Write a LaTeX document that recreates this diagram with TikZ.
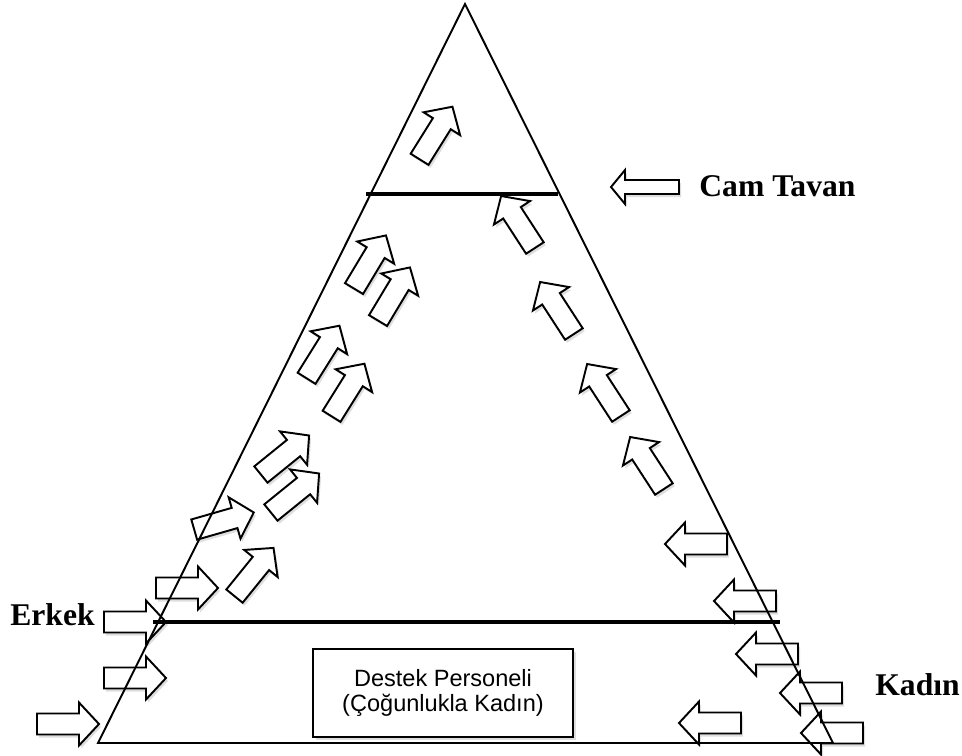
\documentclass[tikz,border=0pt]{standalone}
\usepackage{fontspec}
\setmainfont{Liberation Serif}
\newfontfamily\arialfont{Liberation Sans}

\tikzset{
  arrowbody/.style={draw, fill=white, line width=1.1pt, line join=miter},
  arrowshadow/.style={fill=black, opacity=0.13},
  ceiling/.style={line width=2.6pt},
  label/.style={font=\fontsize{18}{20}\selectfont\bfseries, inner sep=0pt},
  pics/blockarrow/.style={code={
    \fill[arrowshadow, shift={(2,3)}, rotate=#1] (-31,-10.5) -- (11,-10.5) -- (11,-21.5) -- (31,0) -- (11,21.5) -- (11,10.5) -- (-31,10.5) -- cycle;
    \draw[arrowbody, rotate=#1] (-31,-10.5) -- (11,-10.5) -- (11,-21.5) -- (31,0) -- (11,21.5) -- (11,10.5) -- (-31,10.5) -- cycle;
  }},
}

\begin{document}
\begin{tikzpicture}[x=0.02cm, y=-0.02cm]
  \useasboundingbox (0,0) rectangle (962,755);

  % Corners of the pyramid and the two floors
  \coordinate (apex) at (465,4);
  \coordinate (bl) at (98,743);
  \coordinate (br) at (833,743);
  \coordinate (ceilL) at (366,194);
  \coordinate (ceilR) at (558,194);
  \coordinate (erkL) at (153,622);
  \coordinate (erkR) at (780,622);

  % Arrows on the left (men)
  \pic at (68,724) {blockarrow=0};
  \pic at (135,678) {blockarrow=0};
  \pic at (135,622) {blockarrow=0};
  \pic at (187,588) {blockarrow=0};
  \pic at (224,521) {blockarrow=16};
  \pic at (254,572) {blockarrow=51};
  \pic at (285,455) {blockarrow=39};
  \pic at (295,493) {blockarrow=39};
  \pic at (323,352) {blockarrow=58};
  \pic at (348,390) {blockarrow=58};
  \pic at (370,262) {blockarrow=59};
  \pic at (394,294) {blockarrow=59};
  \pic at (436,133) {blockarrow=58};

  % Arrows on the right (women)
  \pic at (518,222) {blockarrow=123};
  \pic at (557,308) {blockarrow=123};
  \pic at (604,390) {blockarrow=123};
  \pic at (647,463) {blockarrow=123};
  \pic at (696,544) {blockarrow=180};
  \pic at (745,601) {blockarrow=180};
  \pic at (767,654) {blockarrow=180};
  \pic at (811,693) {blockarrow=180};
  \pic at (832,733) {blockarrow=180};
  \pic at (710,723) {blockarrow=180};

  % Cam Tavan arrow (smaller)
  \fill[arrowshadow, shift={(2,3)}] (611,187) -- (625,170) -- (625,180) -- (679,180) -- (679,194) -- (625,194) -- (625,204) -- cycle;
  \draw[arrowbody] (611,187) -- (625,170) -- (625,180) -- (679,180) -- (679,194) -- (625,194) -- (625,204) -- cycle;

  % Pyramid
  \draw[line width=1.1pt, line join=miter] (bl) -- (apex) -- (br) -- cycle;

  % Glass ceiling and lower floor
  \draw[ceiling, opacity=0.15, shift={(1,3)}] (ceilL) -- (ceilR);
  \draw[ceiling] (ceilL) -- (ceilR);
  \draw[ceiling, opacity=0.15, shift={(1,3)}] (erkL) -- (erkR);
  \draw[ceiling] (erkL) -- (erkR);

  % Support staff box
  \fill[black, opacity=0.13] (316,652) rectangle (576,740);
  \node[draw, fill=white, line width=1.1pt, minimum width=5.2cm, minimum height=1.76cm,
        align=center, font=\arialfont\fontsize{13.4}{13.8}\selectfont] (support) at (443,693)
        {Destek Personeli\\(Çoğunlukla Kadın)};

  % Labels
  \node[label, anchor=base west] (erkek) at (10,625) {Erkek};
  \node[label, anchor=base west] (kadin) at (875,695) {Kadın};
  \node[label, anchor=base west] (camtavan) at (699,196) {Cam Tavan};

\end{tikzpicture}
\end{document}
